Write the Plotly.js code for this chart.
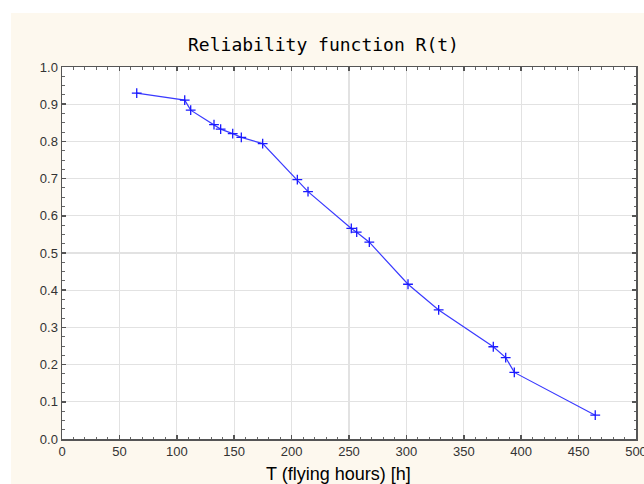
<!DOCTYPE html>
<html>
<head>
<meta charset="utf-8">
<script src="https://cdn.plot.ly/plotly-3.0.1.min.js"></script>
<style>
  html, body { margin: 0; padding: 0; background: #ffffff; width: 644px; height: 484px; overflow: hidden; }
  #chart { position: absolute; left: 11px; top: 13px; width: 633px; height: 471px; }
</style>
</head>
<body>
<div id="chart"></div>
<script>
// Flying hours T [h]
const flyingHours = [65.1, 106.9, 112.1, 132.4, 138.2, 148.7, 156.2, 174.8, 205.0, 214.3,
                     252.0, 256.7, 267.7, 301.4, 328.1, 375.7, 386.5, 394.0, 464.5];
// Reliability R(t)
const reliability = [0.930, 0.911, 0.884, 0.845, 0.833, 0.821, 0.811, 0.794, 0.697, 0.665,
                     0.566, 0.556, 0.529, 0.416, 0.347, 0.248, 0.219, 0.179, 0.064];
const xTicks = [0, 50, 100, 150, 200, 250, 300, 350, 400, 450, 500];
const yTicks = [0.0, 0.1, 0.2, 0.3, 0.4, 0.5, 0.6, 0.7, 0.8, 0.9, 1.0];

const trace = {
  x: flyingHours,
  y: reliability,
  type: 'scatter',
  mode: 'lines+markers',
  line: { color: '#3a3aff', width: 1.2 },
  marker: { symbol: 'cross-thin', size: 7, line: { color: '#1a1aff', width: 1.3 }, color: '#1a1aff' },
  hoverinfo: 'skip'
};

const axisCommon = {
  showgrid: true,
  gridcolor: '#e2e2e2',
  gridwidth: 1.3,
  zeroline: false,
  showline: true,
  linecolor: '#555555',
  linewidth: 1.5,
  mirror: 'ticks',
  ticks: 'inside',
  ticklen: 4,
  tickwidth: 1.5,
  tickcolor: '#555555',
  ticklabeloverflow: 'allow',
  tickfont: { family: 'Liberation Sans, Arial, sans-serif', size: 13, color: '#333333' },
  fixedrange: true
};

const layout = {
  width: 633,
  height: 471,
  paper_bgcolor: '#fdf8ee',
  plot_bgcolor: '#ffffff',
  margin: { l: 51, r: 8, t: 54, b: 45 },
  showlegend: false,
  title: {
    text: 'Reliability function R(t)',
    font: { family: 'DejaVu Sans Mono, monospace', size: 18, color: '#000000' },
    xref: 'container', yref: 'container',
    x: 0.4937, xanchor: 'center',
    y: 0.932, yanchor: 'middle'
  },
  xaxis: Object.assign({}, axisCommon, {
    range: [0, 500],
    tickvals: xTicks,
    ticktext: xTicks.map(String),
    minor: { dtick: 10, ticks: 'inside', ticklen: 2.5, tickcolor: '#666666', tickwidth: 1, showgrid: false }
  }),
  yaxis: Object.assign({}, axisCommon, {
    range: [0, 1],
    tickvals: yTicks,
    ticktext: yTicks.map(v => v.toFixed(1)),
    minor: { dtick: 0.025, ticks: 'inside', ticklen: 2.5, tickcolor: '#666666', tickwidth: 1, showgrid: false }
  }),
  annotations: [{
    text: 'T (flying hours) [h]',
    xref: 'paper', yref: 'paper',
    x: 0.481, y: -0.094,
    xanchor: 'center', yanchor: 'middle',
    showarrow: false,
    font: { family: 'Liberation Sans, Arial, sans-serif', size: 18, color: '#000000' }
  }]
};

Plotly.newPlot('chart', [trace], layout, { displayModeBar: false, staticPlot: true });
</script>
</body>
</html>
